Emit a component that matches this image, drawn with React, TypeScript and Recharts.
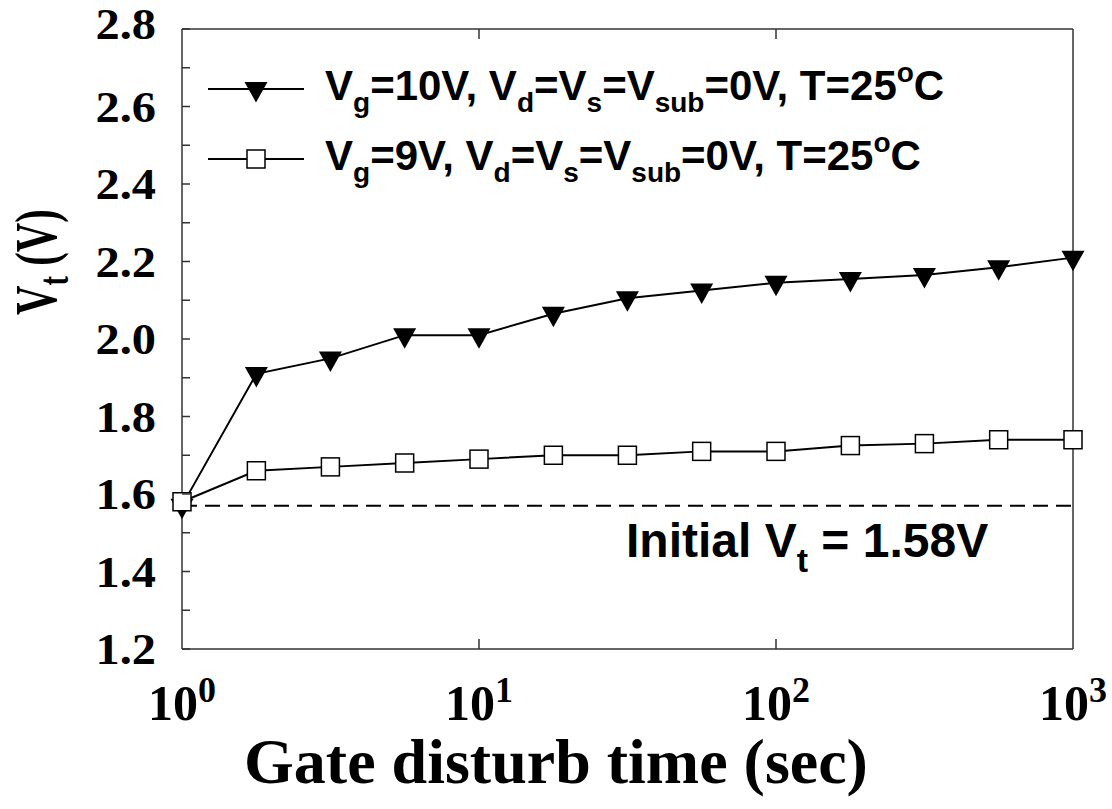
import React from "react";
import { LineChart, Line, XAxis, YAxis, ReferenceLine, Legend } from "recharts";

// gate disturb time (sec), log-spaced readings
const TIMES = [1, 1.78, 3.16, 5.62, 10, 17.8, 31.6, 56.2, 100, 178, 316, 562, 1000];
// Vt (V)
const VT_VG10 = [1.57, 1.91, 1.95, 2.01, 2.01, 2.065, 2.105, 2.125, 2.145, 2.155, 2.165, 2.185, 2.21];
const VT_VG9 = [1.58, 1.66, 1.67, 1.68, 1.69, 1.7, 1.7, 1.71, 1.71, 1.725, 1.73, 1.74, 1.74];

const X_TICKS = [1, 10, 100, 1000];
const X_EXPONENTS = ["0", "1", "2", "3"];
const Y_TICKS = [1.2, 1.3, 1.4, 1.5, 1.6, 1.7, 1.8, 1.9, 2.0, 2.1, 2.2, 2.3, 2.4, 2.5, 2.6, 2.7, 2.8];
const INITIAL_VT = 1.57;

const data = TIMES.map((t, i) => ({ t, vg10: VT_VG10[i], vg9: VT_VG9[i] }));

type Part = [string, "n" | "sub" | "sup"];

const LEGEND_10: Part[] = [
  ["V", "n"], ["g", "sub"], ["=10V, V", "n"], ["d", "sub"], ["=V", "n"], ["s", "sub"],
  ["=V", "n"], ["sub", "sub"], ["=0V, T=25", "n"], ["o", "sup"], ["C", "n"],
];
const LEGEND_9: Part[] = [
  ["V", "n"], ["g", "sub"], ["=9V, V", "n"], ["d", "sub"], ["=V", "n"], ["s", "sub"],
  ["=V", "n"], ["sub", "sub"], ["=0V, T=25", "n"], ["o", "sup"], ["C", "n"],
];
const INITIAL_LABEL: Part[] = [["Initial V", "n"], ["t", "sub"], [" = 1.58V", "n"]];

const SANS = "'Liberation Sans', Arial, sans-serif";
const SERIF = "'Liberation Serif', 'Times New Roman', serif";
const AXIS = "#333";

function rich(parts: Part[], size: number, small: number, subDy: number, supDy: number) {
  let cur = 0;
  return parts.map(([txt, kind], i) => {
    const target = kind === "sub" ? subDy : kind === "sup" ? -supDy : 0;
    const dy = target - cur;
    cur = target;
    return (
      <tspan key={i} dy={dy} fontSize={kind === "n" ? size : small}>
        {txt}
      </tspan>
    );
  });
}

function TriangleDot(props: any) {
  const { cx, cy } = props;
  if (cx == null || cy == null) return null;
  return <polygon points={`${cx - 11.5},${cy - 7} ${cx + 11.5},${cy - 7} ${cx},${cy + 13.5}`} fill="#000" />;
}

function SquareDot(props: any) {
  const { cx, cy } = props;
  if (cx == null || cy == null) return null;
  return <rect x={cx - 9} y={cy - 9} width={18} height={18} fill="#fff" stroke="#000" strokeWidth={1.5} />;
}

function LeftTick(props: any) {
  const { x, y, payload } = props;
  const v = payload.value as number;
  const major = Math.round(v * 10) % 2 === 0;
  const top = Math.abs(v - 2.8) < 1e-6;
  return (
    <g>
      <line x1={x} x2={x + 8} y1={y} y2={y} stroke={AXIS} strokeWidth={1.5} />
      {major && (
        <text
          transform={`translate(${x - 26}, ${top ? y + 10 : y + 15}) scale(1.1, 1)`}
          textAnchor="end"
          fontFamily={SERIF}
          fontWeight="bold"
          fontSize={44}
          fill="#000"
        >
          {v.toFixed(1)}
        </text>
      )}
    </g>
  );
}

function RightTick(props: any) {
  const { x, y } = props;
  return <line x1={x} x2={x - 9} y1={y} y2={y} stroke={AXIS} strokeWidth={1.5} />;
}

function BottomTick(props: any) {
  const { x, y, payload, index } = props;
  const v = payload.value as number;
  const inner = v > 1 && v < 1000;
  return (
    <g>
      {inner && <line x1={x} x2={x} y1={y} y2={y - 10} stroke={AXIS} strokeWidth={1.5} />}
      <text x={x} y={y + 71} textAnchor="middle" fontFamily={SERIF} fontWeight="bold" fill="#000">
        {rich([["10", "n"], [X_EXPONENTS[index] ?? "", "sup"]], 50, 36, 0, 18)}
      </text>
    </g>
  );
}

function TopTick(props: any) {
  const { x, y, payload } = props;
  const v = payload.value as number;
  if (!(v > 1 && v < 1000)) return <g />;
  return <line x1={x} x2={x} y1={y} y2={y + 10} stroke={AXIS} strokeWidth={1.5} />;
}

function XTitle(props: any) {
  const { viewBox } = props;
  return (
    <text x={556} y={viewBox.y + 134} textAnchor="middle" fontFamily={SERIF} fontWeight="bold" fontSize={64} fill="#000">
      Gate disturb time (sec)
    </text>
  );
}

function YTitle(props: any) {
  const { viewBox } = props;
  return (
    <text
      transform={`translate(56, ${viewBox.y + 233}) rotate(-90) scale(0.68, 1)`}
      textAnchor="middle"
      fontFamily={SERIF}
      fontWeight="bold"
      fill="#000"
    >
      {rich([["V", "n"], ["t", "sub"], [" (V)", "n"]], 60, 42, 12, 0)}
    </text>
  );
}

function InitialLabel(props: any) {
  const { viewBox } = props;
  return (
    <text x={viewBox.x + 444} y={viewBox.y + 51} fontFamily={SANS} fontWeight="bold" fill="#000">
      {rich(INITIAL_LABEL, 48, 34, 15, 0)}
    </text>
  );
}

function LegendBox() {
  const rows: { parts: Part[]; marker: "tri" | "sq"; y: number }[] = [
    { parts: LEGEND_10, marker: "tri", y: 39 },
    { parts: LEGEND_9, marker: "sq", y: 109 },
  ];
  return (
    <svg width={780} height={140} style={{ display: "block" }}>
      {rows.map((r) => (
        <g key={r.y}>
          <line x1={8} x2={104} y1={r.y} y2={r.y} stroke="#000" strokeWidth={2} />
          {r.marker === "tri" ? <TriangleDot cx={56} cy={r.y} /> : <SquareDot cx={56} cy={r.y} />}
          <text x={125} y={r.y + 11} fontFamily={SANS} fontWeight="bold" fill="#000">
            {rich(r.parts, 42, 28, 12, 18)}
          </text>
        </g>
      ))}
    </svg>
  );
}

export default function App() {
  return (
    <div style={{ width: 1112, height: 809, background: "#fff" }}>
      <style>{"body{margin:0;background:#fff}"}</style>
      <LineChart width={1112} height={809} data={data} margin={{ top: 0, right: 0, bottom: 0, left: 0 }}>
        <XAxis
          dataKey="t"
          type="number"
          scale="log"
          domain={[1, 1000]}
          ticks={X_TICKS}
          interval={0}
          height={160}
          tickSize={0}
          tickMargin={0}
          tickLine={false}
          axisLine={{ stroke: AXIS, strokeWidth: 1.5 }}
          tick={(p: any) => <BottomTick key={p.index} {...p} />}
          label={{ content: (p: any) => <XTitle {...p} /> }}
        />
        <XAxis
          xAxisId="top"
          orientation="top"
          dataKey="t"
          type="number"
          scale="log"
          domain={[1, 1000]}
          ticks={X_TICKS}
          interval={0}
          height={29}
          tickSize={0}
          tickMargin={0}
          tickLine={false}
          axisLine={{ stroke: AXIS, strokeWidth: 1.5 }}
          tick={(p: any) => <TopTick key={p.index} {...p} />}
        />
        <YAxis
          type="number"
          domain={[1.2, 2.8]}
          ticks={Y_TICKS}
          interval={0}
          width={182}
          tickSize={0}
          tickMargin={0}
          tickLine={false}
          axisLine={{ stroke: AXIS, strokeWidth: 1.5 }}
          tick={(p: any) => <LeftTick key={p.index} {...p} />}
          label={{ content: (p: any) => <YTitle {...p} /> }}
        />
        <YAxis
          yAxisId="r"
          orientation="right"
          type="number"
          domain={[1.2, 2.8]}
          ticks={Y_TICKS}
          interval={0}
          width={39}
          tickSize={0}
          tickMargin={0}
          tickLine={false}
          axisLine={{ stroke: AXIS, strokeWidth: 1.5 }}
          tick={(p: any) => <RightTick key={p.index} {...p} />}
        />
        <ReferenceLine
          y={INITIAL_VT}
          stroke="#000"
          strokeWidth={2}
          strokeDasharray="15 8"
          label={{ content: (p: any) => <InitialLabel {...p} /> }}
        />
        <Legend
          layout="vertical"
          align="center"
          verticalAlign="middle"
          wrapperStyle={{ left: 200, top: 50, width: 780, height: 140 }}
          content={() => <LegendBox />}
        />
        <Line
          dataKey="vg10"
          name="Vg=10V"
          stroke="#000"
          strokeWidth={2}
          isAnimationActive={false}
          dot={(p: any) => <TriangleDot key={`a${p.index}`} {...p} />}
          activeDot={false}
        />
        <Line
          dataKey="vg9"
          name="Vg=9V"
          stroke="#000"
          strokeWidth={2}
          isAnimationActive={false}
          dot={(p: any) => <SquareDot key={`b${p.index}`} {...p} />}
          activeDot={false}
        />
      </LineChart>
    </div>
  );
}
